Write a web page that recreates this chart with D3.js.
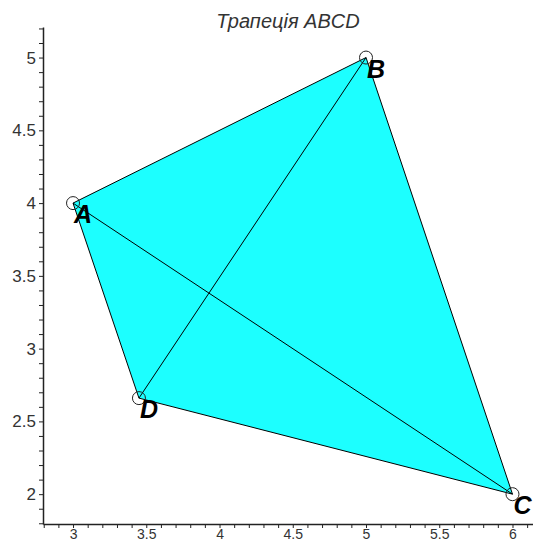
<!DOCTYPE html>
<html lang="uk">
<head>
  <meta charset="UTF-8">
  <title>Трапеція ABCD</title>
  <script src="https://d3js.org/d3.v7.min.js"></script>
  <style>
    body { margin: 0; background: #fff; }
    svg { display: block; }
    .tick text { font-family: "Liberation Sans", Arial, sans-serif; font-size: 17px; fill: #333; }
    .xaxis .tick text { font-size: 14px; }
    .title { font-family: "Liberation Sans", Arial, sans-serif; font-size: 20px; font-style: italic; fill: #333; }
    .vlabel { font-family: "Liberation Sans", Arial, sans-serif; font-size: 25px; font-weight: bold; font-style: italic; fill: #000; }
  </style>
</head>
<body>
  <svg id="chart" width="533" height="544"></svg>
  <script>
    // вершини трапеції
    const names = ["A", "B", "C", "D"];
    const xs = [3, 5, 6, 3.45];
    const ys = [4, 5, 2, 2.66];
    // діагоналі: індекси вершин
    const diagonals = [[0, 2], [1, 3]];
    const xTicks = d3.range(28, 62).map(d => d / 10);
    const yTicks = d3.range(18, 53).map(d => d / 10);

    const width = 533, height = 544;
    const svg = d3.select("#chart");

    const x = d3.scaleLinear().domain([2.795, 6.14]).range([43, 533]);
    const y = d3.scaleLinear().domain([1.795, 5.21]).range([524, 27]);

    const fmt = v => Math.abs(v * 2 - Math.round(v * 2)) < 1e-6 ? String(+v.toFixed(1)) : "";

    const pts = names.map((n, i) => ({ name: n, x: xs[i], y: ys[i] }));

    // заливка трапеції
    svg.append("polygon")
      .attr("points", pts.map(p => [x(p.x), y(p.y)].join(",")).join(" "))
      .attr("fill", "#1cffff")
      .attr("stroke", "#000")
      .attr("stroke-width", 1);

    svg.append("g")
      .selectAll("line")
      .data(diagonals)
      .enter().append("line")
      .attr("x1", d => x(pts[d[0]].x))
      .attr("y1", d => y(pts[d[0]].y))
      .attr("x2", d => x(pts[d[1]].x))
      .attr("y2", d => y(pts[d[1]].y))
      .attr("stroke", "#000")
      .attr("stroke-width", 1);

    svg.append("g")
      .selectAll("circle")
      .data(pts)
      .enter().append("circle")
      .attr("cx", d => x(d.x))
      .attr("cy", d => y(d.y))
      .attr("r", 6.5)
      .attr("fill", "none")
      .attr("stroke", "#222")
      .attr("stroke-width", 1);

    svg.append("g")
      .selectAll("text")
      .data(pts)
      .enter().append("text")
      .attr("class", "vlabel")
      .attr("x", d => x(d.x) + 1)
      .attr("y", d => y(d.y) + 20)
      .text(d => d.name);

    // осі
    const xAxis = d3.axisBottom(x).tickValues(xTicks).tickFormat(fmt)
      .tickSize(4).tickSizeOuter(0).tickPadding(1);
    const gx = svg.append("g").attr("class", "xaxis").attr("transform", "translate(0,524)").call(xAxis);

    const yAxis = d3.axisLeft(y).tickValues(yTicks).tickFormat(fmt)
      .tickSize(4).tickSizeOuter(0).tickPadding(3);
    const gy = svg.append("g").attr("transform", "translate(43,0)").call(yAxis);

    [gx, gy].forEach(g => {
      g.select(".domain").attr("stroke", "#222").attr("stroke-width", 1.5);
      g.selectAll(".tick line").attr("stroke", "#222");
    });

    svg.append("text")
      .attr("class", "title")
      .attr("x", 288)
      .attr("y", 28)
      .attr("text-anchor", "middle")
      .text("Трапеція ABCD");
  </script>
</body>
</html>
